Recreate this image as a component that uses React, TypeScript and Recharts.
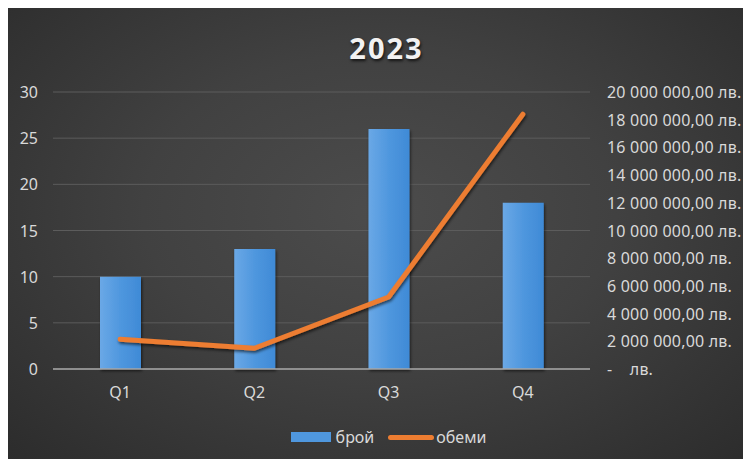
import { ComposedChart, Bar, Line, XAxis, YAxis, CartesianGrid } from 'recharts'

const quarters = ['Q1', 'Q2', 'Q3', 'Q4']
const broi = [10, 13, 26, 18]
const obemi = [2150000, 1500000, 5200000, 18400000]
const leftTicks = [0, 5, 10, 15, 20, 25, 30]
const rightTicks = [0, 2000000, 4000000, 6000000, 8000000, 10000000, 12000000, 14000000, 16000000, 18000000, 20000000]

const data = quarters.map((q, i) => ({ q, broi: broi[i], obemi: obemi[i] }))

const FONT = '"Noto Sans", sans-serif'
const TEXT = '#d9d9d9'

function fmtLev(v: number) {
  if (v === 0) return '-\u00a0\u00a0\u00a0\u00a0лв.'
  const s = String(Math.round(v)).replace(/\B(?=(\d{3})+(?!\d))/g, ' ')
  return s + ',00 лв.'
}

const LeftTick = (props: any) => (
  <text x={30} y={props.y} textAnchor="end" dominantBaseline="central" fill={TEXT} fontSize={16} fontFamily={FONT}>
    {props.payload.value}
  </text>
)

const RightTick = (props: any) => (
  <text x={599} y={props.y} textAnchor="start" dominantBaseline="central" fill={TEXT} fontSize={16} fontFamily={FONT} letterSpacing={0.2}>
    {fmtLev(props.payload.value)}
  </text>
)

const XTick = (props: any) => (
  <text x={props.x} y={384} textAnchor="middle" dominantBaseline="central" fill={TEXT} fontSize={16} fontFamily={FONT}>
    {props.payload.value}
  </text>
)

export default function App() {
  return (
    <div
      style={{
        position: 'relative',
        width: 743,
        height: 451,
        background: 'radial-gradient(ellipse at 50% 45%, #4c4c4c 0%, #414141 45%, #2c2c2c 100%)',
      }}
    >
      <div
        style={{
          position: 'absolute',
          top: 20,
          left: 0,
          width: 743,
          textAlign: 'center',
          fontFamily: FONT,
          fontWeight: 700,
          fontSize: 29,
          letterSpacing: 2,
          color: '#f2f2f2',
          textShadow: '1px 2px 3px rgba(0,0,0,0.7)',
          paddingLeft: 14,
          boxSizing: 'border-box',
        }}
      >
        2023
      </div>
      <ComposedChart width={743} height={451} data={data} margin={{ top: 84, right: 0, bottom: 60, left: 0 }}>
        <defs>
          <linearGradient id="barFill" x1="0" y1="0" x2="1" y2="0">
            <stop offset="0%" stopColor="#6aa8e6" />
            <stop offset="50%" stopColor="#4f97de" />
            <stop offset="100%" stopColor="#3f8ad6" />
          </linearGradient>
          <filter id="shadow" x="-10%" y="-10%" width="120%" height="130%">
            <feDropShadow dx="1" dy="2" stdDeviation="1.5" floodColor="#000" floodOpacity="0.6" />
          </filter>
        </defs>
        <CartesianGrid vertical={false} stroke="#5c5c5c" yAxisId="left" />
        <XAxis dataKey="q" height={30} axisLine={{ stroke: '#a6a6a6', strokeWidth: 1.5 }} tickLine={false} tick={<XTick />} />
        <YAxis
          yAxisId="left"
          orientation="left"
          width={45}
          domain={[0, 30]}
          ticks={leftTicks}
          interval={0}
          axisLine={false}
          tickLine={false}
          tick={<LeftTick />}
        />
        <YAxis
          yAxisId="right"
          orientation="right"
          width={161}
          domain={[0, 20000000]}
          ticks={rightTicks}
          interval={0}
          axisLine={false}
          tickLine={false}
          tick={<RightTick />}
        />
        <Bar yAxisId="left" dataKey="broi" name="брой" barSize={41} fill="url(#barFill)" filter="url(#shadow)" isAnimationActive={false} />
        <Line
          yAxisId="right"
          dataKey="obemi"
          name="обеми"
          type="linear"
          stroke="#ed7d31"
          strokeWidth={5}
          strokeLinecap="round"
          strokeLinejoin="round"
          dot={false}
          filter="url(#shadow)"
          isAnimationActive={false}
        />
      </ComposedChart>
      <div
        style={{
          position: 'absolute',
          top: 418,
          left: 0,
          width: 743,
          display: 'flex',
          justifyContent: 'center',
          alignItems: 'center',
          fontFamily: FONT,
          fontSize: 16,
          color: TEXT,
          paddingLeft: 18,
          boxSizing: 'border-box',
        }}
      >
        <span style={{ display: 'inline-block', width: 40, height: 10, background: '#4f97de', marginRight: 5 }} />
        <span style={{ marginRight: 14 }}>брой</span>
        <span style={{ display: 'inline-block', width: 46, height: 5, borderRadius: 3, background: '#ed7d31', marginRight: 2 }} />
        <span>обеми</span>
      </div>
    </div>
  )
}
